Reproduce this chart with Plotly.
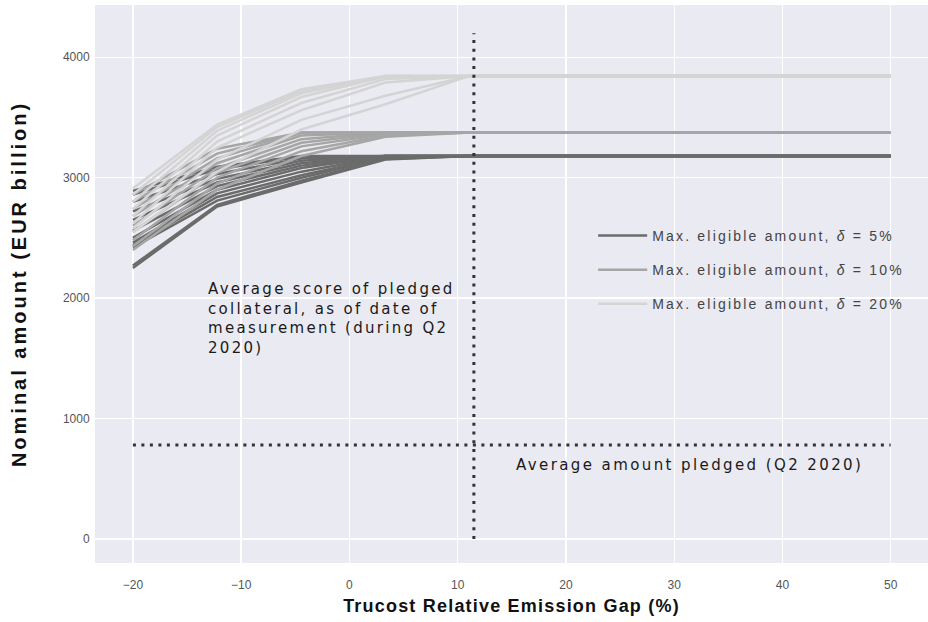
import plotly.graph_objects as go

# x positions of the scenario grid (Trucost Relative Emission Gap, %)
gap_x = [-20, -12.22, -4.44, 3.33, 11.11, 18.89, 26.67, 34.44, 42.22, 50]

# Max. eligible amount, delta = 5%  (EUR billion)
delta5_runs = [
    [2250, 2760, 2960, 3150, 3180, 3180, 3180, 3180, 3180, 3180],
    [2270, 2775, 2975, 3155, 3180, 3180, 3180, 3180, 3180, 3180],
    [2420, 2810, 3000, 3165, 3180, 3180, 3180, 3180, 3180, 3180],
    [2440, 2840, 3020, 3170, 3180, 3180, 3180, 3180, 3180, 3180],
    [2460, 2870, 3050, 3175, 3180, 3180, 3180, 3180, 3180, 3180],
    [2500, 2900, 3080, 3180, 3180, 3180, 3180, 3180, 3180, 3180],
    [2560, 2930, 3100, 3180, 3180, 3180, 3180, 3180, 3180, 3180],
    [2650, 2960, 3120, 3180, 3180, 3180, 3180, 3180, 3180, 3180],
    [2720, 2990, 3140, 3180, 3180, 3180, 3180, 3180, 3180, 3180],
    [2800, 3030, 3160, 3180, 3180, 3180, 3180, 3180, 3180, 3180],
    [2860, 3070, 3175, 3180, 3180, 3180, 3180, 3180, 3180, 3180],
    [2890, 3090, 3180, 3180, 3180, 3180, 3180, 3180, 3180, 3180],
]

# Max. eligible amount, delta = 10%
delta10_runs = [
    [2400, 2900, 3180, 3340, 3375, 3375, 3375, 3375, 3375, 3375],
    [2430, 2950, 3220, 3350, 3375, 3375, 3375, 3375, 3375, 3375],
    [2480, 3000, 3260, 3360, 3375, 3375, 3375, 3375, 3375, 3375],
    [2550, 3040, 3290, 3370, 3375, 3375, 3375, 3375, 3375, 3375],
    [2600, 3080, 3320, 3375, 3375, 3375, 3375, 3375, 3375, 3375],
    [2680, 3120, 3350, 3375, 3375, 3375, 3375, 3375, 3375, 3375],
    [2740, 3160, 3370, 3375, 3375, 3375, 3375, 3375, 3375, 3375],
    [2800, 3200, 3375, 3375, 3375, 3375, 3375, 3375, 3375, 3375],
    [2860, 3240, 3375, 3375, 3375, 3375, 3375, 3375, 3375, 3375],
]

# Max. eligible amount, delta = 20%
delta20_runs = [
    [2550, 3050, 3400, 3610, 3845, 3845, 3845, 3845, 3845, 3845],
    [2580, 3150, 3480, 3680, 3845, 3845, 3845, 3845, 3845, 3845],
    [2620, 3250, 3560, 3790, 3845, 3845, 3845, 3845, 3845, 3845],
    [2680, 3300, 3620, 3820, 3845, 3845, 3845, 3845, 3845, 3845],
    [2740, 3350, 3670, 3840, 3845, 3845, 3845, 3845, 3845, 3845],
    [2800, 3390, 3700, 3845, 3845, 3845, 3845, 3845, 3845, 3845],
    [2860, 3420, 3720, 3845, 3845, 3845, 3845, 3845, 3845, 3845],
    [2910, 3440, 3735, 3845, 3845, 3845, 3845, 3845, 3845, 3845],
]

# Reference markers
avg_score_x = 11.5          # average score of pledged collateral
avg_pledged_y = 780         # average amount pledged (EUR billion)
vline_y = [0, 4200]
hline_x = [-20, 50]

LS = '<span style="letter-spacing:{}px">{}</span>'

groups = [
    (LS.format(2.2, "Max. eligible amount, <i>δ</i> = 5%"), delta5_runs, "#6b6b6b"),
    (LS.format(2.2, "Max. eligible amount, <i>δ</i> = 10%"), delta10_runs, "#a6a6a6"),
    (LS.format(2.2, "Max. eligible amount, <i>δ</i> = 20%"), delta20_runs, "#d4d4d4"),
]

fig = go.Figure()
for name, runs, color in groups:
    for i, run in enumerate(runs):
        fig.add_trace(go.Scatter(
            x=gap_x, y=run, mode="lines", name=name,
            legendgroup=name, showlegend=(i == 0),
            line=dict(color=color, width=2.5),
            hoverinfo="skip",
        ))

fig.add_trace(go.Scatter(
    x=[avg_score_x, avg_score_x], y=vline_y, mode="lines", showlegend=False,
    line=dict(color="#333333", width=3, dash="3px,5.7px"), hoverinfo="skip"))
fig.add_trace(go.Scatter(
    x=hline_x, y=[avg_pledged_y, avg_pledged_y], mode="lines", showlegend=False,
    line=dict(color="#333333", width=3, dash="3px,5.5px"), hoverinfo="skip"))

ann_font = dict(family="DejaVu Sans", size=15, color="#1a1a1a")
fig.add_annotation(
    x=-13.25, y=2170, xref="x", yref="y", xanchor="left", yanchor="top",
    text=LS.format(2.3, "Average score of pledged<br>collateral, as of date of<br>measurement (during Q2<br>2020)"),
    showarrow=False, align="left", font=ann_font)
fig.add_annotation(
    x=15.2, y=615, xref="x", yref="y", xanchor="left", yanchor="middle",
    text=LS.format(2.4, "Average amount pledged (Q2 2020)"),
    showarrow=False, align="left", font=ann_font)

tick_font = dict(family="Liberation Sans", size=12, color="#555555")

fig.update_layout(
    width=928, height=622,
    margin=dict(l=95, r=0, t=5, b=59),
    paper_bgcolor="white", plot_bgcolor="#EAEAF2",
    font=dict(family="Liberation Sans"),
    hovermode=False,
    legend=dict(x=0.598, y=0.615, xanchor="left", yanchor="top",
                bgcolor="rgba(0,0,0,0)",
                font=dict(family="Liberation Sans", size=14, color="#444444"),
                tracegroupgap=13, itemwidth=49),
    xaxis=dict(range=[-23.5, 53.45], tickvals=[-20, -10, 0, 10, 20, 30, 40, 50],
               ticktext=["\u221220", "\u221210", "0", "10", "20", "30", "40", "50"],
               showgrid=True, gridcolor="white", gridwidth=1.3, zeroline=False,
               showline=False, ticks="outside", ticklen=11, tickcolor="rgba(0,0,0,0)",
               tickfont=tick_font, automargin=False,
               title=dict(text=LS.format(1.2, "<b>Trucost Relative Emission Gap (%)</b>"),
                          font=dict(family="Liberation Sans", size=18, color="#111111"),
                          standoff=7)),
    yaxis=dict(range=[-200, 4434], tickvals=[0, 1000, 2000, 3000, 4000],
               showgrid=True, gridcolor="white", gridwidth=1.3, zeroline=False,
               showline=False, ticks="outside", ticklen=2, tickcolor="rgba(0,0,0,0)",
               tickfont=tick_font, automargin=False,
               title=dict(text=LS.format(3.0, "<b>Nominal amount (EUR billion)</b>"),
                          font=dict(family="Liberation Sans", size=20, color="#111111"),
                          standoff=30)),
)

fig.write_html("out.html", config={"displayModeBar": False, "staticPlot": True},
               post_script="document.body.style.margin='0';")
